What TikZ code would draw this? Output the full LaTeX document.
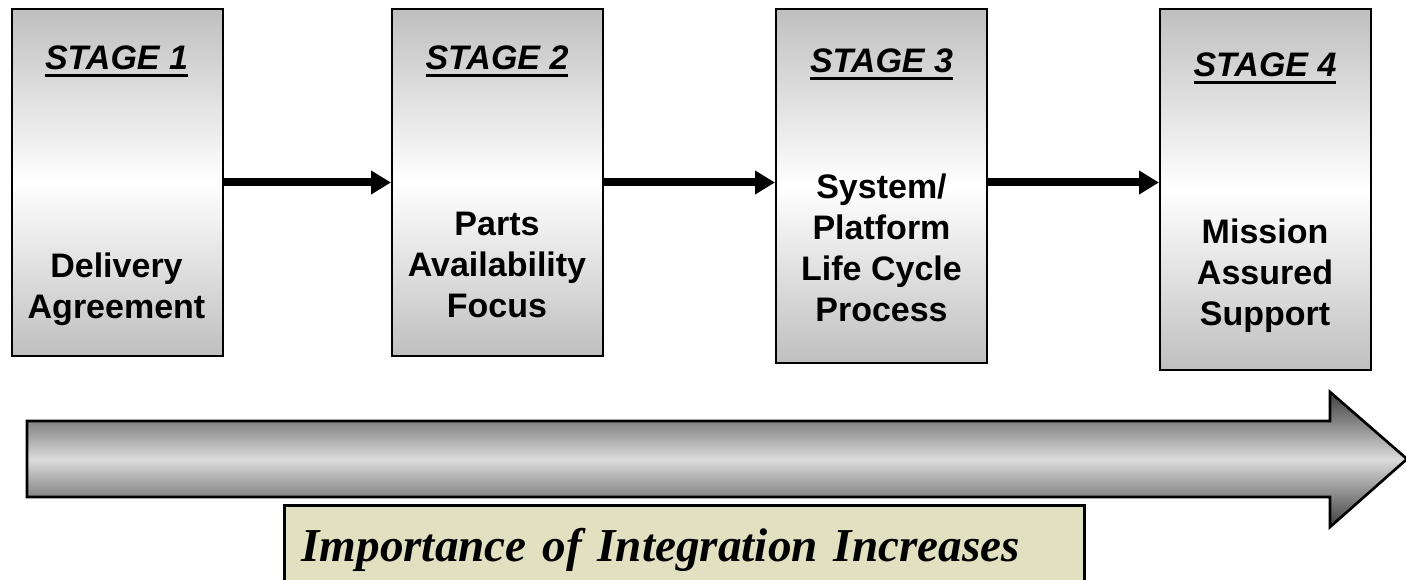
\documentclass[tikz,border=0pt]{standalone}
\usepackage{fontspec}
\setmainfont{Liberation Serif}
\setsansfont{Liberation Sans}
\usepackage{tikz}
\usetikzlibrary{arrows.meta, calc, positioning}
\definecolor{notefill}{RGB}{225,224,193}
\newcommand{\pxl}{0.75pt}
\newcommand{\stageul}[1]{\setbox0\hbox{#1}\rlap{\rule[-5.2pt]{\wd0}{2.2pt}}\box0}
\tikzset{
    stagebox/.style={draw, line width=1.5pt, rectangle, anchor=north west,
        minimum width=211*\pxl, inner sep=0pt,
        top color=black!25, bottom color=black!25, middle color=white},
    stagetitle/.style={anchor=base, inner sep=0pt,
        font=\sffamily\bfseries\itshape\fontsize{25.5}{30.75}\selectfont},
    stagetext/.style={anchor=base, inner sep=0pt, align=center,
        font=\sffamily\bfseries\fontsize{25.5}{30.75}\selectfont},
    flow/.style={line width=6pt, -{Triangle[length=15pt, width=17pt]}},
    trendarrow/.style={draw, line width=2pt,
        top color=black!75, bottom color=black!75, middle color=black!14},
    notebox/.style={draw, line width=2pt, fill=notefill, anchor=north west,
        text width=766*\pxl, inner xsep=17*\pxl, inner ysep=0pt,
        text height=56*\pxl, text depth=40*\pxl, align=left,
        font=\rmfamily\bfseries\itshape\fontsize{35.4}{40}\selectfont}
}
\begin{document}
\begin{tikzpicture}[x=\pxl, y=-\pxl]
    \useasboundingbox (0,0) rectangle (1406,580);
    % the four stages
    \node[stagebox, minimum height=347*\pxl] (s1) at (11,8) {};
    \node[stagebox, minimum height=347*\pxl] (s2) at (391,8) {};
    \node[stagebox, minimum height=354*\pxl] (s3) at (775,8) {};
    \node[stagebox, minimum height=361*\pxl] (s4) at (1159,8) {};
    \node[stagetitle] (t1) at (116.5,70) {\stageul{STAGE 1}};
    \node[stagetitle] (t2) at (497,70) {\stageul{STAGE 2}};
    \node[stagetitle] (t3) at (881.5,73) {\stageul{STAGE 3}};
    \node[stagetitle] (t4) at (1265,77) {\stageul{STAGE 4}};
    \node[stagetext] (b1) at (116.5,319) {Delivery\\Agreement};
    \node[stagetext] (b2) at (497,318) {Parts\\Availability\\Focus};
    \node[stagetext] (b3) at (881.5,322) {System/\\Platform\\Life Cycle\\Process};
    \node[stagetext] (b4) at (1265,326) {Mission\\Assured\\Support};
    \draw[flow] (s1.east) -- (s2.west);
    \draw[flow] (s2.east) -- (s2.east -| s3.west);
    \draw[flow] (s3.east |- s2.east) -- (s2.east -| s4.west);
    % big arrow
    \draw[trendarrow] (27,421) -- (1330,421) -- (1330,392) -- (1407,459)
        -- (1330,527) -- (1330,497) -- (27,497) -- cycle;
    \node[notebox] (note) at (283,504) {Importance of Integration Increases};
\end{tikzpicture}
\end{document}
